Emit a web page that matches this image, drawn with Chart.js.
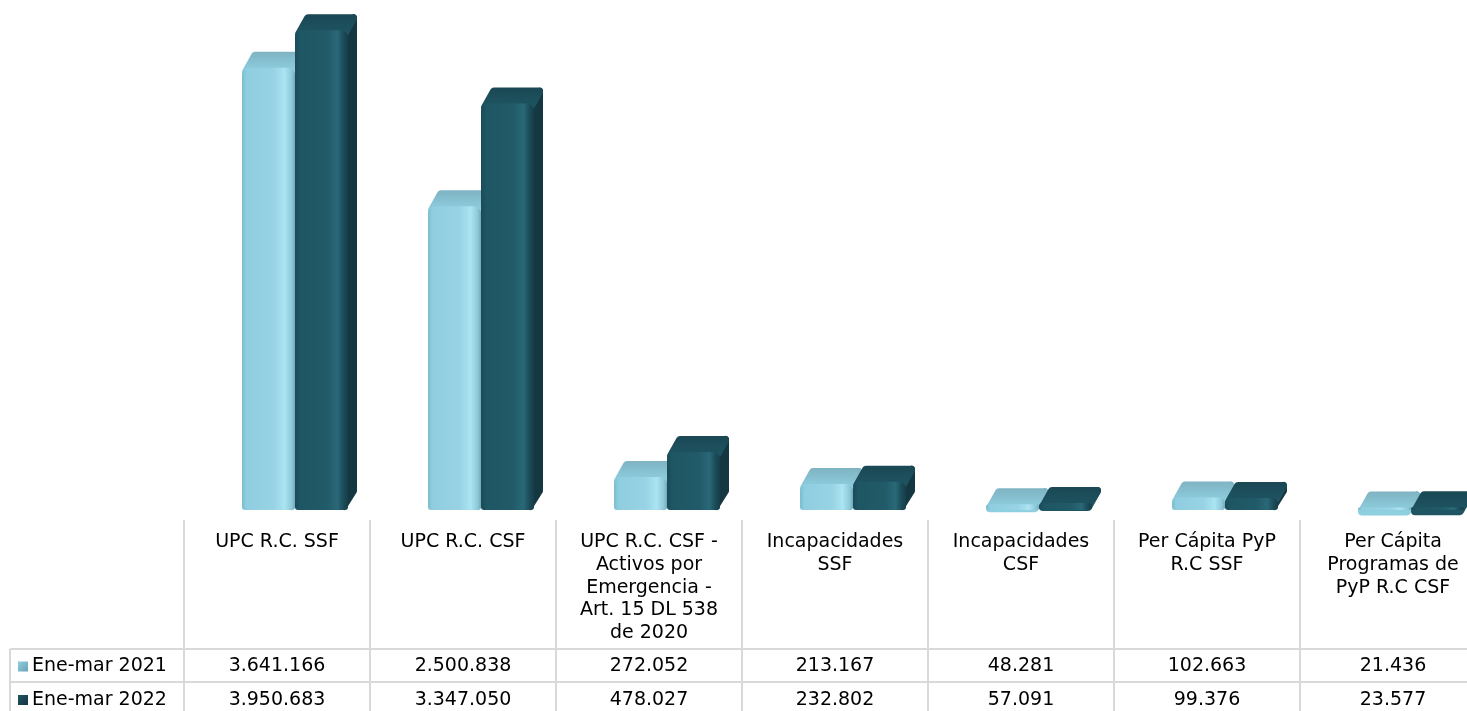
<!DOCTYPE html>
<html lang="es">
  <head>
    <meta charset="UTF-8" />
    <style>
      body { margin: 0; overflow: hidden; background: #fff; }
      #wrap { width: 1504px; height: 711px; position: relative; }
    </style>
  </head>
  <body>
    <div id="wrap"><canvas id="myChart"></canvas></div>
    <script src="https://cdn.jsdelivr.net/npm/chart.js@4.4.0/dist/chart.umd.min.js"></script>
    <script>
      // data
      var categories = [
        ["UPC R.C. SSF"],
        ["UPC R.C. CSF"],
        ["UPC R.C. CSF -", "Activos por", "Emergencia -", "Art. 15 DL 538", "de 2020"],
        ["Incapacidades", "SSF"],
        ["Incapacidades", "CSF"],
        ["Per Cápita PyP", "R.C SSF"],
        ["Per Cápita", "Programas de", "PyP R.C CSF"]
      ];
      var seriesNames = ["Ene-mar 2021", "Ene-mar 2022"];
      var ene2021 = [3641166, 2500838, 272052, 213167, 48281, 102663, 21436];
      var ene2022 = [3950683, 3347050, 478027, 232802, 57091, 99376, 23577];

      var FONT = '19px "DejaVu Sans", Verdana, sans-serif';
      var catPct = 0.57;
      var depthX = 9, depthY = 16;
      var tableShift = -18;

      var looks = [
        {
          front: [[0, "#7cbccf"], [0.08, "#8fcde0"], [0.6, "#97d3e4"], [0.8, "#abe4f2"], [0.94, "#8ec8d8"], [1, "#6ea8b9"]],
          top: "#7fb3c2", side: "#6aa2b2", key: "#8ecfe0"
        },
        {
          front: [[0, "#1a4a57"], [0.1, "#1f5664"], [0.6, "#215a68"], [0.8, "#2a6878"], [0.92, "#1b4a57"], [1, "#153e4a"]],
          top: "#1a4854", side: "#143742", key: "#1f5462"
        }
      ];

      function fmt(n) {
        return String(n).replace(/\B(?=(\d{3})+(?!\d))/g, ".");
      }

      function frontFill(ctx) {
        var look = looks[ctx.datasetIndex];
        var chart = ctx.chart;
        var xs = chart.scales.x;
        if (ctx.dataIndex === undefined || !chart.chartArea || !xs) return look.key;
        var cw = xs.width / categories.length;
        var bw = (cw * catPct) / 2;
        var c = xs.getPixelForValue(ctx.dataIndex);
        var x0 = ctx.datasetIndex === 0 ? c - bw : c;
        var g = chart.ctx.createLinearGradient(x0, 0, x0 + bw, 0);
        look.front.forEach(function (s) { g.addColorStop(s[0], s[1]); });
        return g;
      }

      // top and side faces behind the front of each bar
      var depthPlugin = {
        id: "depth",
        beforeDatasetsDraw: function (chart) {
          var c = chart.ctx;
          c.save();
          c.lineJoin = "round";
          chart.data.datasets.forEach(function (ds, di) {
            var look = looks[di];
            chart.getDatasetMeta(di).data.forEach(function (el) {
              var x0 = el.x - el.width / 2, x1 = el.x + el.width / 2;
              var yT = el.y, base = el.base;
              var sideTop = yT - depthY + 3;
              var sideBot = Math.max(base - depthY - 3, sideTop);
              c.fillStyle = look.side;
              c.strokeStyle = look.side;
              c.lineWidth = 6;
              c.beginPath();
              c.moveTo(x1 - 4, Math.min(yT + 3, base - 3));
              c.lineTo(x1 + depthX - 3, sideTop);
              c.lineTo(x1 + depthX - 3, sideBot);
              c.lineTo(x1 - 4, base - 3);
              c.closePath();
              c.stroke();
              c.fill();
              var g = c.createLinearGradient(0, yT - depthY, 0, yT + 4);
              g.addColorStop(0, look.top);
              g.addColorStop(1, look.key);
              c.fillStyle = g;
              c.strokeStyle = g;
              c.lineWidth = 8;
              c.beginPath();
              c.moveTo(x0 + 4, yT + 4);
              c.lineTo(x0 + depthX + 4, yT - depthY + 4);
              c.lineTo(x1 + depthX - 4, yT - depthY + 4);
              c.lineTo(x1 - 4, yT + 4);
              c.closePath();
              c.stroke();
              c.fill();
            });
          });
          c.restore();
        }
      };

      // data table under the bars
      var tablePlugin = {
        id: "dataTable",
        afterDraw: function (chart) {
          var c = chart.ctx;
          var xs = chart.scales.x;
          var cw = xs.width / categories.length;
          var left0 = xs.left + tableShift;
          var rowLines = [649, 682, 716];
          var rows = [ene2021, ene2022];
          c.save();
          c.strokeStyle = "#d9d9d9";
          c.lineWidth = 2;
          c.beginPath();
          for (var i = 0; i <= categories.length; i++) {
            var x = Math.round(left0 + i * cw);
            c.moveTo(x, 520);
            c.lineTo(x, 720);
          }
          rowLines.forEach(function (y) {
            c.moveTo(10, y);
            c.lineTo(left0 + categories.length * cw, y);
          });
          c.moveTo(10, rowLines[0]);
          c.lineTo(10, 720);
          c.stroke();

          c.font = FONT;
          c.fillStyle = "#000";
          c.textAlign = "center";
          c.textBaseline = "middle";
          categories.forEach(function (lines, i) {
            var cx = left0 + i * cw + cw / 2;
            lines.forEach(function (t, k) {
              c.fillText(t, cx, 542 + k * 22.8);
            });
          });
          rows.forEach(function (vals, r) {
            var cy = (rowLines[r] + rowLines[r + 1]) / 2 + 1;
            vals.forEach(function (v, i) {
              c.fillText(fmt(v), left0 + i * cw + cw / 2, cy);
            });
          });
          c.textAlign = "left";
          rows.forEach(function (vals, r) {
            var cy = (rowLines[r] + rowLines[r + 1]) / 2 + 1;
            var look = looks[r];
            var g = c.createLinearGradient(18, cy - 5, 28, cy + 5);
            g.addColorStop(0, look.key);
            g.addColorStop(1, look.side);
            c.fillStyle = g;
            c.fillRect(18, cy - 5, 10, 10);
            c.fillStyle = "#000";
            c.fillText(seriesNames[r], 32, cy);
          });
          c.restore();
        }
      };

      var barStyle = {
        categoryPercentage: catPct,
        barPercentage: 1,
        backgroundColor: frontFill,
        borderWidth: 0,
        borderRadius: { topLeft: 7, topRight: 7, bottomLeft: 3, bottomRight: 3 },
        borderSkipped: false
      };

      var ctx = document.getElementById("myChart").getContext("2d");
      var chart = new Chart(ctx, {
        type: "bar",
        data: {
          labels: categories,
          datasets: [
            Object.assign({ label: seriesNames[0], data: ene2021 }, barStyle),
            Object.assign({ label: seriesNames[1], data: ene2022 }, barStyle)
          ]
        },
        options: {
          responsive: true,
          maintainAspectRatio: false,
          animation: false,
          layout: { padding: { left: 202, right: 0, top: 0, bottom: 201 } },
          scales: {
            x: { display: false },
            y: { display: false, min: 0, max: 4200000 }
          },
          plugins: {
            colors: { enabled: false },
            legend: { display: false },
            tooltip: { enabled: false }
          }
        },
        plugins: [depthPlugin, tablePlugin]
      });
    </script>
  </body>
</html>
